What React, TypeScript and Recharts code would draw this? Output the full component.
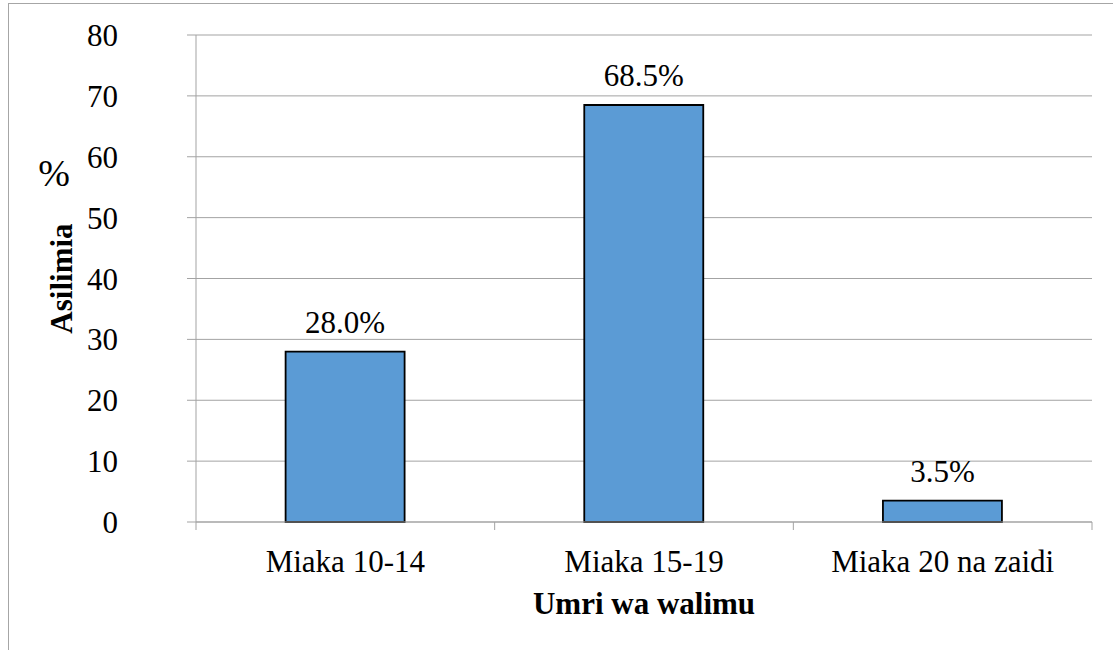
import { BarChart, Bar, XAxis, YAxis, CartesianGrid, LabelList } from 'recharts';

const categories = ['Miaka 10-14', 'Miaka 15-19', 'Miaka 20 na zaidi'];
const percentages = [28.0, 68.5, 3.5];
const yTicks = [0, 10, 20, 30, 40, 50, 60, 70, 80];

const FONT = "'Liberation Serif', 'Times New Roman', serif";
const GRID = '#a3a3a3';
const TICK_SIZE = 8;
const TICK_MARGIN = 20;

const data = categories.map((name, i) => ({ name, value: percentages[i] }));

// category label plus the tick marks that sit on the band edges
function CategoryTick(props: any) {
  const { x, y, payload, index, visibleTicksCount } = props;
  const half = payload?.offset ?? 149;
  const axisY = y - TICK_SIZE - TICK_MARGIN;
  const isLast = index === (visibleTicksCount ?? categories.length) - 1;
  return (
    <g>
      <line x1={x - half} x2={x - half} y1={axisY} y2={axisY + TICK_SIZE} stroke={GRID} />
      {isLast && (
        <line x1={x + half} x2={x + half} y1={axisY} y2={axisY + TICK_SIZE} stroke={GRID} />
      )}
      <text x={x} y={y} dy="0.71em" textAnchor="middle" fontSize={31} fontFamily={FONT} fill="#000">
        {payload.value}
      </text>
    </g>
  );
}

function YTitle(props: any) {
  const { x, y, height } = props.viewBox;
  const cy = y + height / 2;
  return (
    <g fontFamily={FONT} fill="#000">
      <text x={x + 54} y={y + 151} textAnchor="middle" fontSize={38}>
        %
      </text>
      <text
        x={x + 72}
        y={cy}
        textAnchor="middle"
        fontSize={31}
        fontWeight="bold"
        transform={`rotate(-90, ${x + 72}, ${cy})`}
      >
        Asilimia
      </text>
    </g>
  );
}

function XTitle(props: any) {
  const { x, y, width } = props.viewBox;
  return (
    <text x={x + width / 2} y={y + 92} textAnchor="middle" fontSize={31} fontWeight="bold" fontFamily={FONT} fill="#000">
      Umri wa walimu
    </text>
  );
}

export default function App() {
  return (
    <div style={{ position: 'fixed', left: 0, top: 0, width: 1113, height: 650, overflow: 'hidden', background: '#fff' }}>
      <div
        style={{
          position: 'absolute',
          left: 8,
          top: 3,
          width: 1200,
          height: 700,
          border: '1px solid #a6a6a6',
        }}
      />
      <div style={{ position: 'absolute', left: 0, top: 0 }}>
        <BarChart
          width={1113}
          height={650}
          data={data}
          margin={{ top: 35, right: 21, bottom: 0, left: 0 }}
          barCategoryGap="30%"
        >
          <CartesianGrid vertical={false} stroke={GRID} />
          <XAxis
            dataKey="name"
            height={128}
            axisLine={{ stroke: GRID }}
            tickLine={false}
            tickSize={TICK_SIZE}
            tickMargin={TICK_MARGIN}
            tick={<CategoryTick />}
            interval={0}
            label={{ content: <XTitle /> }}
          />
          <YAxis
            width={196}
            domain={[0, 80]}
            ticks={yTicks}
            interval={0}
            axisLine={{ stroke: GRID }}
            tickLine={{ stroke: GRID }}
            tickSize={9}
            tickMargin={69}
            tick={{ fontSize: 31, fontFamily: FONT, fill: '#000' }}
            label={{ content: <YTitle /> }}
          />
          <Bar dataKey="value" fill="#5b9bd5" stroke="#000" strokeWidth={1.8} isAnimationActive={false}>
            <LabelList
              dataKey="value"
              position="top"
              offset={19}
              formatter={(v: any) => `${Number(v).toFixed(1)}%`}
              style={{ fontSize: 31, fontFamily: FONT, fill: '#000' }}
            />
          </Bar>
        </BarChart>
      </div>
    </div>
  );
}
